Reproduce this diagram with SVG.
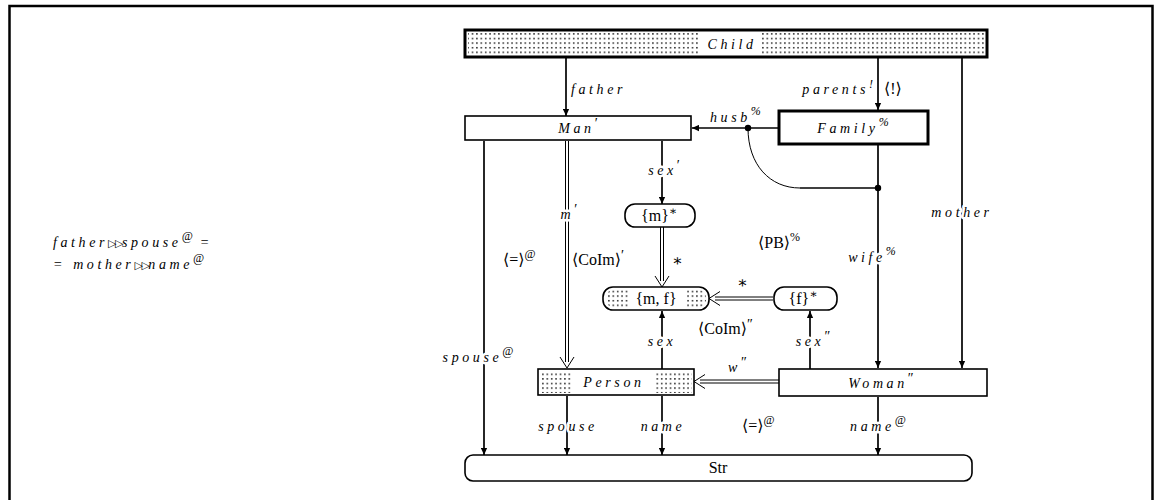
<svg xmlns="http://www.w3.org/2000/svg" width="1162" height="500" viewBox="0 0 1162 500">
<defs>
<style>
.m{font-family:"Liberation Serif","Times New Roman","DejaVu Serif",serif;font-style:italic;font-size:14px;letter-spacing:3.6px;fill:#000}
.r{font-family:"Liberation Serif","Times New Roman","DejaVu Serif",serif;font-size:16px;fill:#000}
.h{stroke:#fff;stroke-width:5px;paint-order:stroke;stroke-linejoin:round}
.c{text-anchor:middle}
.ln{stroke:#000;stroke-width:1.7;fill:none}
.dl{stroke:#000;stroke-width:1;fill:none}
.box{fill:#fff;stroke:#000;stroke-width:1.6}
.bx{fill:#fff;stroke:#000;stroke-width:3}
.sup{font-size:12px;letter-spacing:0}
.pr{font-size:14px;letter-spacing:0;font-style:normal}
</style>
<pattern id="dots" width="4.4" height="4.6" patternUnits="userSpaceOnUse">
<rect x="1" y="1" width="1.4" height="1.4" fill="#000"/>
</pattern>
<marker id="ah" viewBox="0 0 10 10" refX="10" refY="5" markerWidth="9" markerHeight="7" orient="auto" markerUnits="userSpaceOnUse">
<path d="M0,0.5 L10,5 L0,9.5 z" fill="#000"/>
</marker>
</defs>
<rect width="1162" height="500" fill="#fff"/>
<path d="M9.5,502 V6 H1152.5 V502" fill="none" stroke="#000" stroke-width="2.5"/>

<g id="formula">
<text class="m" x="53" y="247">father<tspan font-style="normal" font-size="11" letter-spacing="-1.5">▷▷</tspan>spouse<tspan class="sup" dy="-7">@</tspan><tspan dy="7"> =</tspan></text>
<text class="m" x="53" y="269">= mother<tspan font-style="normal" font-size="11" letter-spacing="-1.5">▷▷</tspan>name<tspan class="sup" dy="-7">@</tspan></text>
</g>

<g id="connectors">
<line class="ln" x1="566" y1="58" x2="566" y2="116" marker-end="url(#ah)"/>
<line class="ln" x1="878" y1="58" x2="878" y2="110" marker-end="url(#ah)"/>
<line class="ln" x1="962" y1="58" x2="962" y2="368" marker-end="url(#ah)"/>
<line class="ln" x1="779" y1="128" x2="692" y2="128" marker-end="url(#ah)"/>
<circle cx="748" cy="128" r="3.2" fill="#000"/>
<path d="M748,128 C748,165 770,188 800,188" fill="none" stroke="#000" stroke-width="1"/>
<line class="ln" x1="800" y1="188" x2="878" y2="188"/>
<circle cx="878" cy="188" r="3.2" fill="#000"/>
<line class="ln" x1="878" y1="145" x2="878" y2="368" marker-end="url(#ah)"/>
<line class="ln" x1="484" y1="141" x2="484" y2="455" marker-end="url(#ah)"/>
<line class="dl" x1="565.5" y1="141" x2="565.5" y2="362"/>
<line class="dl" x1="568.5" y1="141" x2="568.5" y2="362"/>
<path d="M560,357 L567,368 L574,357" class="dl"/>
<line class="ln" x1="662" y1="141" x2="662" y2="204" marker-end="url(#ah)"/>
<line class="dl" x1="660.5" y1="227" x2="660.5" y2="281"/>
<line class="dl" x1="663.5" y1="227" x2="663.5" y2="281"/>
<path d="M655,276 L662,287 L669,276" class="dl"/>
<line class="dl" x1="773" y1="297" x2="715" y2="297"/>
<line class="dl" x1="773" y1="300" x2="715" y2="300"/>
<path d="M720,291.5 L709,298.5 L720,305.5" class="dl"/>
<line class="ln" x1="662" y1="369" x2="662" y2="311" marker-end="url(#ah)"/>
<line class="ln" x1="810" y1="369" x2="810" y2="311" marker-end="url(#ah)"/>
<line class="dl" x1="779" y1="380" x2="700" y2="380"/>
<line class="dl" x1="779" y1="383" x2="700" y2="383"/>
<path d="M705,374.5 L694,381.5 L705,388.5" class="dl"/>
<line class="ln" x1="567" y1="396" x2="567" y2="455" stroke-width="2.6" marker-end="url(#ah)"/>
<line class="ln" x1="662" y1="396" x2="662" y2="455" marker-end="url(#ah)"/>
<line class="ln" x1="878" y1="397" x2="878" y2="455" marker-end="url(#ah)"/>
</g>

<g id="labels">
<text class="m" x="571" y="94">father</text>
<text class="m" x="873" y="94" text-anchor="end">parents<tspan class="sup" dy="-6">!</tspan></text>
<text class="r" x="884" y="94">⟨!⟩</text>
<text class="m" x="710" y="122">husb<tspan class="sup" dy="-7">%</tspan></text>
<text class="m h c" x="664" y="175">sex<tspan class="pr" dy="-5">′</tspan></text>
<text class="m h c" x="569" y="219">m<tspan class="pr" dy="-5">′</tspan></text>
<text class="m h c" x="962" y="217">mother</text>
<text class="r" x="503" y="265">⟨=⟩<tspan class="sup" dy="-7">@</tspan></text>
<text class="r h" x="572" y="265">⟨CoIm⟩<tspan class="pr" dy="-5">′</tspan></text>
<text class="r" x="672" y="266">∗</text>
<text class="r" x="758" y="248">⟨PB⟩<tspan class="sup" dy="-7">%</tspan></text>
<text class="m h c" x="872" y="262">wife<tspan class="sup" dy="-7">%</tspan></text>
<text class="r" x="737" y="288">∗</text>
<text class="r" x="698" y="334">⟨CoIm⟩<tspan class="pr" dy="-5">″</tspan></text>
<text class="m h c" x="662" y="346">sex</text>
<text class="m h c" x="813" y="346">sex<tspan class="pr" dy="-5">″</tspan></text>
<text class="m h c" x="478" y="362">spouse<tspan class="sup" dy="-7">@</tspan></text>
<text class="m" x="728" y="372">w<tspan class="pr" dy="-5">″</tspan></text>
<text class="m h c" x="568" y="431">spouse</text>
<text class="m h c" x="663" y="431">name</text>
<text class="r" x="742" y="431">⟨=⟩<tspan class="sup" dy="-7">@</tspan></text>
<text class="m h c" x="878" y="431">name<tspan class="sup" dy="-7">@</tspan></text>
</g>

<g id="Child">
<rect class="bx" x="465" y="30" width="522" height="27"/>
<rect x="468" y="33" width="516" height="21" fill="url(#dots)"/>
<rect x="700" y="33" width="60" height="21" fill="#fff"/>
<text class="m c" x="732" y="49">Child</text>
</g>

<g id="Man">
<rect class="box" x="465" y="116" width="226" height="24"/>
<text class="m c" x="578" y="133">Man<tspan class="pr" dy="-5">′</tspan></text>
</g>

<g id="Family">
<rect class="bx" x="779" y="111" width="149" height="33"/>
<text class="m c" x="853" y="133">Family<tspan class="sup" dy="-7">%</tspan></text>
</g>

<g id="m">
<rect class="box" x="625" y="204" width="70" height="23" rx="10"/>
<text class="r c" x="659" y="221">{m}<tspan class="sup" dy="-6">∗</tspan></text>
</g>

<g id="mf">
<rect class="box" x="603" y="287" width="106" height="23" rx="10"/>
<rect x="606" y="290" width="100" height="17" rx="7" fill="url(#dots)"/>
<rect x="628" y="290" width="57" height="17" fill="#fff"/>
<text class="r c" x="656" y="304">{m, f}</text>
</g>

<g id="f">
<rect class="box" x="774" y="287" width="63" height="23" rx="10"/>
<text class="r c" x="803" y="304">{f}<tspan class="sup" dy="-6">∗</tspan></text>
</g>

<g id="Person">
<rect class="box" x="538" y="369" width="156" height="26" stroke-width="2.6"/>
<rect x="540" y="371" width="152" height="22" fill="url(#dots)"/>
<rect x="572" y="371" width="82" height="22" fill="#fff"/>
<text class="m c" x="614" y="387">Person</text>
</g>

<g id="Woman">
<rect class="box" x="779" y="369" width="208" height="27"/>
<text class="m c" x="881" y="388">Woman<tspan class="pr" dy="-5">″</tspan></text>
</g>

<g id="Str">
<rect class="box" x="465" y="455" width="507" height="26" rx="8"/>
<text class="r c" x="718" y="473">Str</text>
</g>
</svg>
